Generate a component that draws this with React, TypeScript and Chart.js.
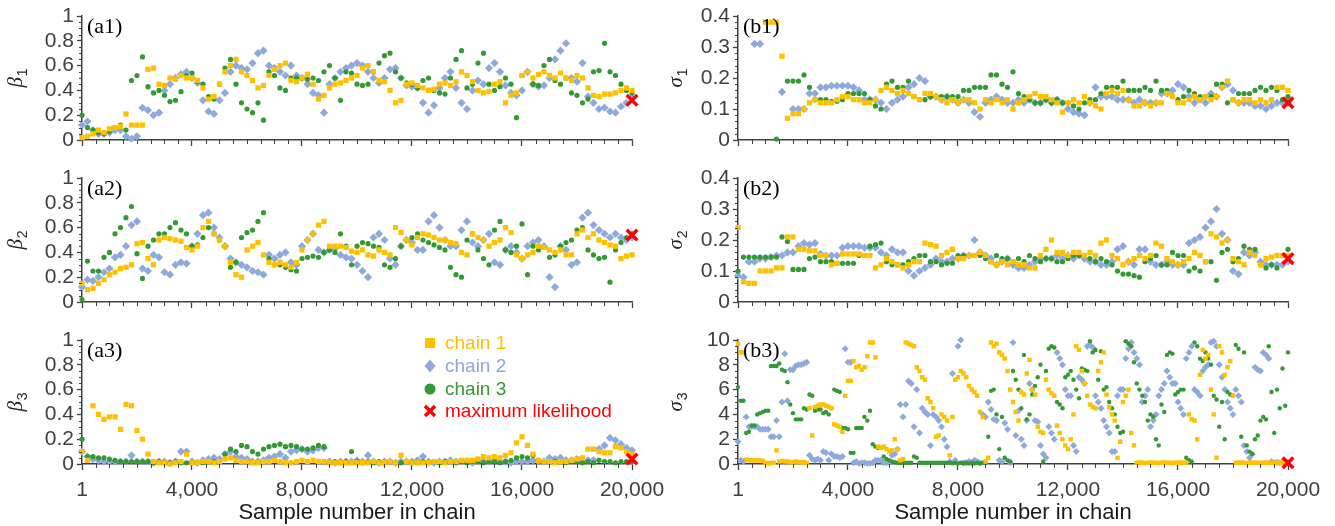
import React, { useEffect, useRef } from 'react';
import { Chart, registerables } from 'chart.js';

Chart.register(...registerables);

// ---------------- data ----------------
const SAMPLE_STEP = 200; // thinning interval of the traces in panels a1-a3, b1, b2
const SAMPLE_STEP_B3 = 100; // thinning interval of the traces in panel b3
const X_TICKS = [1, 4000, 8000, 12000, 16000, 20000];
const X_TICK_LABELS = ['1', '4,000', '8,000', '12,000', '16,000', '20,000'];
const A_TICKS = [0, 0.2, 0.4, 0.6, 0.8, 1];
const B_TICKS = [0, 0.1, 0.2, 0.3, 0.4];
const B3_TICKS = [0, 2, 4, 6, 8, 10];
const ML_SAMPLE = 20000;
const ML_VALUES = [0.32, 0.54, 0.04, 0.12, 0.14, 0.1]; // a1 a2 a3 b1 b2 b3
const LEGEND_LABELS = ['chain 1', 'chain 2', 'chain 3', 'maximum likelihood'];

const beta1Chain1 = [0.02,0.03,0.05,0.08,0.06,0.09,0.10,0.11,0.21,0.12,
  0.12,0.12,0.57,0.58,0.45,0.44,0.50,0.49,0.52,0.50,
  0.50,0.48,0.42,0.33,0.35,0.45,0.55,0.60,0.65,0.55,
  0.52,0.48,0.42,0.44,0.52,0.57,0.60,0.62,0.48,0.47,
  0.50,0.53,0.45,0.33,0.36,0.42,0.45,0.46,0.48,0.50,
  0.52,0.58,0.60,0.55,0.48,0.47,0.40,0.30,0.32,0.45,
  0.46,0.44,0.42,0.40,0.41,0.45,0.46,0.44,0.47,0.55,
  0.52,0.47,0.40,0.38,0.39,0.45,0.47,0.30,0.36,0.38,
  0.52,0.55,0.50,0.53,0.55,0.52,0.50,0.54,0.50,0.48,
  0.52,0.50,0.42,0.36,0.35,0.37,0.37,0.38,0.40,0.42,
  0.40];
const beta1Chain2 = [0.12,0.15,0.08,0.05,0.05,0.06,0.08,0.08,0.03,0.01,
  0.03,0.26,0.24,0.20,0.22,0.40,0.45,0.50,0.53,0.55,
  0.50,0.46,0.32,0.23,0.21,0.32,0.38,0.55,0.60,0.58,
  0.57,0.62,0.70,0.72,0.60,0.58,0.55,0.52,0.60,0.52,
  0.50,0.45,0.38,0.36,0.22,0.45,0.50,0.55,0.58,0.60,
  0.62,0.60,0.55,0.50,0.46,0.50,0.57,0.58,0.50,0.44,
  0.43,0.42,0.30,0.22,0.28,0.42,0.50,0.55,0.42,0.30,
  0.25,0.40,0.48,0.45,0.58,0.62,0.55,0.44,0.38,0.36,
  0.40,0.55,0.45,0.43,0.44,0.50,0.65,0.72,0.78,0.50,
  0.47,0.62,0.35,0.30,0.25,0.26,0.23,0.22,0.27,0.30,
  0.34];
const beta1Chain3 = [0.20,0.10,0.08,0.06,0.05,0.07,0.10,0.12,0.08,0.48,
  0.52,0.67,0.43,0.38,0.40,0.36,0.31,0.32,0.39,0.52,
  0.54,0.47,0.45,0.35,0.33,0.45,0.58,0.65,0.45,0.30,
  0.25,0.22,0.30,0.16,0.55,0.52,0.42,0.40,0.50,0.50,
  0.50,0.49,0.50,0.48,0.55,0.60,0.50,0.32,0.55,0.54,
  0.45,0.44,0.45,0.55,0.62,0.68,0.70,0.55,0.50,0.46,
  0.45,0.42,0.48,0.50,0.40,0.38,0.37,0.50,0.65,0.72,
  0.42,0.45,0.62,0.70,0.45,0.40,0.43,0.50,0.45,0.18,
  0.52,0.55,0.45,0.44,0.60,0.65,0.48,0.45,0.50,0.38,
  0.36,0.30,0.33,0.55,0.56,0.78,0.55,0.52,0.45,0.40,
  0.38];

const beta2Chain1 = [0.15,0.10,0.11,0.15,0.18,0.22,0.24,0.27,0.28,0.30,
  0.47,0.48,0.35,0.30,0.50,0.52,0.51,0.50,0.49,0.44,
  0.42,0.45,0.60,0.65,0.55,0.50,0.45,0.32,0.22,0.20,
  0.42,0.45,0.48,0.38,0.32,0.30,0.32,0.30,0.28,0.32,
  0.42,0.50,0.55,0.62,0.65,0.45,0.45,0.45,0.44,0.41,
  0.40,0.42,0.38,0.37,0.42,0.40,0.38,0.60,0.56,0.50,
  0.46,0.52,0.55,0.54,0.52,0.50,0.50,0.48,0.47,0.40,
  0.38,0.55,0.52,0.50,0.45,0.48,0.50,0.60,0.56,0.38,
  0.35,0.38,0.40,0.45,0.44,0.42,0.40,0.42,0.38,0.38,
  0.55,0.58,0.52,0.55,0.50,0.48,0.46,0.45,0.35,0.37,
  0.38];
const beta2Chain2 = [0.12,0.18,0.17,0.20,0.24,0.27,0.36,0.38,0.45,0.62,
  0.65,0.27,0.25,0.38,0.36,0.24,0.22,0.30,0.32,0.31,
  0.45,0.55,0.70,0.72,0.60,0.52,0.45,0.35,0.32,0.30,
  0.28,0.25,0.24,0.22,0.38,0.35,0.38,0.40,0.32,0.30,
  0.45,0.50,0.55,0.42,0.40,0.42,0.43,0.38,0.36,0.35,
  0.30,0.25,0.20,0.52,0.55,0.50,0.35,0.30,0.45,0.50,
  0.48,0.42,0.42,0.65,0.70,0.60,0.50,0.45,0.45,0.58,
  0.65,0.48,0.45,0.50,0.55,0.32,0.30,0.42,0.45,0.40,
  0.35,0.45,0.48,0.50,0.45,0.20,0.12,0.45,0.42,0.30,
  0.32,0.68,0.72,0.62,0.58,0.55,0.52,0.55,0.52,0.50,
  0.52];
const beta2Chain3 = [0.02,0.33,0.25,0.25,0.36,0.40,0.55,0.60,0.68,0.77,
  0.39,0.19,0.45,0.50,0.55,0.55,0.60,0.64,0.58,0.55,
  0.45,0.46,0.52,0.60,0.55,0.50,0.45,0.28,0.32,0.52,
  0.56,0.58,0.65,0.72,0.35,0.30,0.30,0.28,0.26,0.25,
  0.35,0.36,0.37,0.36,0.40,0.42,0.40,0.55,0.45,0.30,
  0.45,0.48,0.47,0.45,0.44,0.30,0.28,0.35,0.45,0.50,
  0.52,0.55,0.50,0.48,0.46,0.44,0.42,0.28,0.22,0.20,
  0.50,0.55,0.42,0.35,0.30,0.58,0.65,0.42,0.40,0.45,
  0.63,0.22,0.45,0.42,0.44,0.36,0.38,0.45,0.48,0.50,
  0.58,0.60,0.42,0.38,0.35,0.36,0.16,0.42,0.48,0.52,
  0.55];

const beta3Chain1 = [0.10,0.03,0.47,0.40,0.36,0.38,0.38,0.28,0.48,0.47,
  0.27,0.20,0.08,0.02,0.01,0.01,0.00,0.01,0.02,0.08,
  0.01,0.01,0.02,0.02,0.01,0.02,0.04,0.05,0.03,0.02,
  0.02,0.01,0.01,0.02,0.02,0.03,0.02,0.01,0.01,0.02,
  0.03,0.02,0.03,0.02,0.02,0.01,0.01,0.01,0.01,0.01,
  0.01,0.01,0.01,0.02,0.01,0.01,0.02,0.01,0.07,0.02,
  0.01,0.01,0.01,0.01,0.02,0.02,0.01,0.02,0.02,0.03,
  0.03,0.03,0.04,0.06,0.05,0.06,0.05,0.07,0.09,0.17,
  0.22,0.15,0.08,0.03,0.02,0.02,0.01,0.02,0.02,0.03,
  0.04,0.05,0.12,0.12,0.10,0.09,0.09,0.14,0.13,0.10,
  0.08];
const beta3Chain2 = [0.10,0.06,0.04,0.03,0.02,0.02,0.02,0.02,0.02,0.07,
  0.02,0.02,0.02,0.01,0.02,0.02,0.01,0.02,0.10,0.10,
  0.02,0.01,0.03,0.04,0.05,0.04,0.08,0.10,0.06,0.05,
  0.04,0.02,0.02,0.03,0.05,0.06,0.08,0.05,0.10,0.11,
  0.12,0.10,0.11,0.13,0.13,0.02,0.01,0.02,0.02,0.02,
  0.03,0.02,0.07,0.02,0.01,0.02,0.02,0.01,0.02,0.02,
  0.02,0.03,0.06,0.02,0.01,0.02,0.02,0.03,0.02,0.02,
  0.02,0.01,0.03,0.02,0.02,0.03,0.02,0.02,0.01,0.02,
  0.02,0.02,0.03,0.02,0.02,0.05,0.04,0.05,0.03,0.03,
  0.04,0.02,0.03,0.03,0.12,0.15,0.21,0.19,0.16,0.13,
  0.11];
const beta3Chain3 = [0.20,0.06,0.06,0.05,0.05,0.04,0.03,0.02,0.02,0.02,
  0.02,0.02,0.02,0.01,0.02,0.01,0.01,0.02,0.01,0.01,
  0.01,0.01,0.01,0.02,0.02,0.02,0.08,0.12,0.10,0.15,
  0.14,0.10,0.08,0.12,0.14,0.15,0.16,0.14,0.15,0.14,
  0.12,0.12,0.13,0.15,0.14,0.01,0.02,0.01,0.02,0.10,
  0.02,0.01,0.02,0.01,0.02,0.01,0.02,0.01,0.01,0.02,
  0.01,0.01,0.02,0.01,0.02,0.01,0.02,0.02,0.01,0.02,
  0.01,0.02,0.02,0.01,0.02,0.02,0.01,0.02,0.03,0.05,
  0.06,0.05,0.07,0.03,0.02,0.02,0.02,0.02,0.01,0.02,
  0.02,0.01,0.02,0.01,0.03,0.02,0.02,0.01,0.02,0.02,
  0.02];

const sigma1Chain1 = [null,null,null,null,null,0.38,0.38,0.38,0.27,0.07,
  0.085,0.085,0.10,0.12,0.13,0.12,0.12,0.12,0.13,0.14,
  0.14,0.13,0.13,0.12,0.12,0.13,0.16,0.17,0.16,0.15,
  0.16,0.15,0.14,0.13,0.15,0.15,0.14,0.13,0.12,0.13,
  0.12,0.13,0.13,0.12,0.10,0.13,0.12,0.13,0.12,0.13,
  0.10,0.12,0.13,0.14,0.15,0.14,0.14,0.13,0.12,0.09,
  0.12,0.13,0.12,0.14,0.12,0.11,0.10,0.15,0.16,0.15,
  0.16,0.13,0.11,0.11,0.12,0.11,0.12,0.12,0.15,0.14,
  0.12,0.12,0.13,0.14,0.13,0.14,0.13,0.14,0.17,0.19,
  0.13,0.12,0.13,0.13,0.12,0.13,0.12,0.13,0.17,0.17,
  0.16];
const sigma1Chain2 = [null,null,null,0.31,0.31,null,null,null,0.155,null,
  0.10,0.10,0.10,0.15,0.15,0.17,0.17,0.175,0.175,0.175,
  0.175,0.17,0.16,0.13,0.13,0.13,0.12,0.10,0.12,0.13,
  0.14,0.17,0.18,0.20,0.19,0.14,0.14,0.13,0.14,0.13,
  0.12,0.13,0.12,0.09,0.075,0.12,0.13,0.14,0.13,0.12,
  0.12,0.13,0.12,0.13,0.12,0.12,0.13,0.12,0.13,0.12,
  0.10,0.09,0.085,0.08,0.12,0.17,0.14,0.14,0.14,0.13,
  0.13,0.13,0.12,0.13,0.12,0.12,0.12,0.15,0.15,0.16,
  0.18,0.17,0.14,0.12,0.13,0.12,0.15,0.14,0.17,0.18,
  0.16,0.12,0.12,0.12,0.11,0.11,0.10,0.11,0.12,0.12,
  0.12];
const sigma1Chain3 = [null,null,null,null,null,null,null,0.003,null,0.19,
  0.19,0.19,0.21,0.17,0.13,0.13,0.13,0.125,0.125,0.13,
  0.15,0.15,0.15,0.15,0.13,0.11,0.10,0.18,0.19,0.17,
  0.17,0.19,0.14,0.13,0.13,0.14,0.14,0.14,0.14,0.14,
  0.14,0.16,0.16,0.17,0.17,0.17,0.21,0.21,0.18,0.17,
  0.22,0.15,0.14,0.13,0.12,0.12,0.13,0.12,0.13,0.12,
  0.12,0.11,0.10,0.12,0.13,0.13,0.15,0.17,0.17,0.17,
  0.19,0.16,0.16,0.16,0.17,0.16,0.19,0.16,0.16,0.14,
  0.13,0.14,0.16,0.15,0.14,0.14,0.14,0.18,0.18,0.12,
  0.13,0.15,0.15,0.15,0.16,0.17,0.16,0.17,0.16,0.13,
  0.14];

const sigma2Chain1 = [0.24,0.065,0.06,0.06,0.10,0.10,0.10,0.11,0.11,0.21,
  0.21,0.17,0.17,0.165,0.165,0.15,0.15,0.12,0.125,0.155,
  0.155,0.155,0.155,0.15,0.15,0.11,0.12,0.14,0.13,0.12,
  0.11,0.12,0.13,0.13,0.19,0.185,0.18,0.15,0.16,0.17,
  0.14,0.14,0.15,0.15,0.16,0.15,0.13,0.12,0.13,0.12,
  0.13,0.12,0.12,0.11,0.11,0.15,0.17,0.20,0.16,0.16,
  0.15,0.16,0.16,0.15,0.16,0.15,0.19,0.20,0.15,0.14,
  0.12,0.13,0.14,0.15,0.14,0.15,0.19,0.18,0.14,0.13,
  0.12,0.13,0.14,0.16,0.15,0.13,0.22,0.21,0.19,0.20,
  0.14,0.13,0.12,0.16,0.15,0.12,0.14,0.145,0.15,0.15,
  0.15];
const sigma2Chain2 = [0.085,0.08,0.13,0.13,0.14,0.14,0.145,0.15,0.15,0.16,
  0.16,0.18,0.19,0.185,0.19,0.155,0.15,0.15,0.15,0.175,
  0.18,0.18,0.18,0.175,0.175,0.175,0.16,0.15,0.17,0.16,
  0.16,0.10,0.085,0.10,0.11,0.12,0.14,0.13,0.13,0.14,
  0.14,0.15,0.15,0.20,0.16,0.15,0.14,0.12,0.13,0.14,
  0.12,0.11,0.11,0.12,0.13,0.14,0.14,0.14,0.15,0.14,
  0.15,0.14,0.15,0.14,0.13,0.13,0.12,0.12,0.13,0.17,
  0.18,0.13,0.12,0.17,0.17,0.13,0.12,0.12,0.13,0.12,
  0.12,0.12,0.19,0.20,0.21,0.24,0.26,0.30,0.22,0.20,
  0.10,0.09,0.16,0.15,0.16,0.13,0.12,0.12,0.12,0.12,
  0.13];
const sigma2Chain3 = [0.10,0.145,0.145,0.145,0.145,0.145,0.145,0.145,0.21,0.195,
  0.105,0.105,0.105,0.14,0.145,0.13,0.13,0.13,0.125,0.125,
  0.125,0.125,0.15,0.15,0.18,0.185,0.19,0.13,0.12,0.12,
  0.12,0.13,0.14,0.15,0.15,0.13,0.13,0.12,0.125,0.125,
  0.15,0.15,0.15,0.15,0.15,0.14,0.13,0.15,0.14,0.14,
  0.13,0.14,0.13,0.15,0.14,0.13,0.14,0.14,0.13,0.13,
  0.14,0.15,0.15,0.15,0.14,0.13,0.14,0.13,0.12,0.10,
  0.09,0.09,0.085,0.08,0.13,0.14,0.15,0.12,0.12,0.16,
  0.15,0.15,0.10,0.11,0.10,0.13,0.13,0.07,0.16,0.17,
  0.13,0.14,0.18,0.17,0.17,0.12,0.11,0.12,0.11,0.15,
  0.17];

const sigma3Chain1 = [9.7,9.0,9.0,0.35,0.3,0.3,0.3,0.3,0.28,0.25,
  0.1,0.05,0.08,0.1,1.1,0.2,0.25,0.2,0.2,0.15,
  0.15,0.2,0.15,0.15,0.15,0.1,4.5,2.3,4.6,4.7,
  4.8,4.8,4.7,4.6,4.5,3.2,3.1,3.0,2.6,5.5,
  6.7,6.7,8.3,7.8,7.9,7.6,7.8,8.7,9.8,9.8,
  8.6,1.4,1.3,1.4,1.2,1.0,1.1,2.0,1.2,0.3,
  0.4,9.8,9.7,9.6,9.5,7.8,7.5,7.0,6.8,5.3,
  5.0,4.5,2.2,2.3,4.0,3.8,3.5,0.7,3.8,6.8,
  7.0,7.5,7.3,7.0,6.3,6.0,5.8,5.5,4.2,3.8,
  0.2,0.5,9.8,9.5,9.7,9.0,8.8,8.5,7.5,6.0,
  5.0,4.2,3.5,5.8,5.6,7.3,8.4,6.0,5.6,3.0,
  2.6,2.5,6.8,6.0,5.7,5.5,3.1,2.5,2.0,1.5,
  1.2,2.0,4.0,9.5,9.2,7.5,6.5,5.5,4.8,4.6,
  4.5,7.5,8.2,9.0,5.6,4.6,4.0,3.5,0.5,1.8,
  5.0,5.5,6.0,2.5,1.5,0.1,0.12,0.1,0.08,0.1,
  0.12,0.1,0.1,0.08,0.1,0.12,0.1,0.1,0.08,0.1,
  0.1,0.12,0.1,0.1,4.0,3.6,3.5,2.0,7.2,9.2,
  8.5,8.8,6.0,4.0,0.5,9.5,9.0,7.2,7.8,8.3,
  5.5,0.1,0.12,0.1,0.1,0.08,0.1,0.12,0.1,0.1,
  0.08,0.1,0.12,0.1,0.1,0.1,0.08,0.1,0.12,0.1,
  0.1];
const sigma3Chain2 = [1.8,0.3,0.2,3.8,3.0,3.0,3.0,3.0,2.8,2.8,
  2.8,2.8,2.2,2.2,3.5,2.2,5.0,8.9,5.1,7.6,
  7.6,7.9,8.0,8.0,8.1,8.2,0.7,0.4,0.3,0.4,
  0.3,1.0,0.9,0.3,0.8,0.6,0.6,0.5,0.6,9.3,
  8.2,8.2,0.1,0.2,0.05,0.1,0.1,0.05,0.05,0.1,
  0.3,0.3,0.3,0.1,0.1,0.1,0.7,0.8,1.2,4.8,
  3.8,4.8,6.7,6.5,3.0,6.0,2.5,4.5,4.2,4.0,
  1.5,4.0,3.8,3.5,3.0,2.0,1.4,0.2,7.3,0.3,
  9.5,10.0,0.1,0.1,0.2,0.1,0.3,0.2,0.1,4.0,
  3.8,5.0,4.4,3.6,3.5,0.3,0.2,3.3,2.8,0.1,
  9.8,2.3,4.3,2.0,1.5,3.5,6.5,6.0,3.5,3.4,
  1.5,0.8,0.5,3.0,2.5,2.0,9.0,8.5,8.0,6.0,
  5.5,5.5,1.5,1.0,7.0,6.8,6.5,9.5,9.6,9.4,
  5.5,5.0,4.5,3.5,3.0,2.5,1.0,1.0,5.5,6.0,
  6.0,8.5,9.3,9.8,9.0,8.5,8.0,5.0,5.5,6.0,
  3.0,3.5,4.0,5.5,6.0,6.5,7.5,7.0,6.5,6.5,
  5.0,4.5,4.0,8.5,9.0,9.5,6.0,5.8,5.5,7.5,
  7.8,8.0,9.8,9.9,9.5,8.0,7.0,6.0,5.0,4.5,
  4.0,6.0,5.5,5.0,1.5,1.0,0.5,0.8,7.8,7.6,
  7.5,9.0,8.8,8.5,0.2,0.1,0.15,0.1,0.2,0.1,
  0.1];
const sigma3Chain3 = [6.2,5.1,5.1,2.5,2.6,3.1,3.1,4.0,4.1,4.2,
  4.3,4.3,7.9,7.9,7.9,8.1,7.6,7.5,6.6,4.8,
  4.1,3.6,3.6,3.6,4.5,4.4,5.6,5.5,4.3,4.4,
  4.4,4.1,4.2,4.0,4.5,6.0,5.9,5.8,2.9,2.9,
  2.8,0.9,0.9,2.9,2.9,2.9,3.8,3.5,4.3,1.6,
  1.4,1.3,1.3,0.6,0.4,0.3,0.2,0.15,0.1,0.1,
  0.1,0.1,0.1,0.1,0.6,0.5,0.1,0.1,0.1,0.1,
  0.1,0.1,0.1,0.1,0.1,0.1,0.1,0.1,0.05,0.1,
  0.05,0.1,0.05,0.1,0.05,0.1,0.05,0.1,0.05,0.1,
  0.1,2.2,5.9,6.0,4.0,1.2,3.8,0.5,0.3,0.2,
  7.5,6.8,6.0,4.5,8.8,3.6,4.0,5.6,6.3,7.0,
  8.0,0.2,7.5,9.3,9.5,9.4,5.0,4.8,4.5,7.0,
  7.2,7.5,6.8,6.0,5.3,7.7,7.6,7.5,9.9,9.0,
  9.2,6.8,9.1,6.0,6.2,5.0,4.5,4.0,3.0,2.5,
  2.6,9.9,9.7,9.5,8.2,6.5,6.0,5.5,5.0,3.5,
  4.0,3.8,2.0,1.5,4.8,4.2,8.8,9.0,8.9,5.6,
  5.8,6.0,6.0,0.5,0.3,0.2,9.8,9.5,8.5,8.3,
  9.0,8.5,8.0,5.5,5.2,3.0,5.0,2.0,5.8,5.6,
  5.5,9.6,9.3,2.2,9.0,1.5,1.0,0.8,2.0,2.3,
  3.5,3.8,3.6,9.5,5.8,2.5,6.0,4.5,7.7,4.7,
  9.0];

// ---------------- styling ----------------
const YELLOW = '#FFC000';
const BLUE = '#8EA9DB';
const GREEN = '#339933';
const RED = '#FF0000';
const AXIS = '#404040';
const TICK_TEXT = '#404040';
const SANS = "'Liberation Sans', Arial, Helvetica, sans-serif";
const SERIF = "'Liberation Serif', 'Times New Roman', serif";

type Series = (number | null)[];

interface PanelSpec {
  id: string;
  label: string;
  letter: string;
  sub: string;
  col: number;
  row: number;
  series: Series[];
  step: number;
  ml: number;
  yMax: number;
  yTicks: number[];
  yMinorStep: number;
  yMinorEvery: number;
  markerScale: number;
  legend?: boolean;
}

const COLS = [
  { left: 0, width: 672, yw: 82, padRight: 40, titleX: 22 },
  { left: 660, width: 675, yw: 78, padRight: 47, titleX: 22 },
];
const ROWS = [
  { top: 0, height: 160, padTop: 16, xh: 20, labels: false },
  { top: 160, height: 162, padTop: 18, xh: 20, labels: false },
  { top: 322, height: 204, padTop: 18, xh: 62, labels: true },
];

const PANELS: PanelSpec[] = [
  { id: 'a1', label: '(a1)', letter: 'β', sub: '1', col: 0, row: 0, series: [beta1Chain1, beta1Chain2, beta1Chain3], step: SAMPLE_STEP, ml: ML_VALUES[0], yMax: 1, yTicks: A_TICKS, yMinorStep: 0.05, yMinorEvery: 4, markerScale: 1 },
  { id: 'a2', label: '(a2)', letter: 'β', sub: '2', col: 0, row: 1, series: [beta2Chain1, beta2Chain2, beta2Chain3], step: SAMPLE_STEP, ml: ML_VALUES[1], yMax: 1, yTicks: A_TICKS, yMinorStep: 0.05, yMinorEvery: 4, markerScale: 1 },
  { id: 'a3', label: '(a3)', letter: 'β', sub: '3', col: 0, row: 2, series: [beta3Chain1, beta3Chain2, beta3Chain3], step: SAMPLE_STEP, ml: ML_VALUES[2], yMax: 1, yTicks: A_TICKS, yMinorStep: 0.05, yMinorEvery: 4, markerScale: 1, legend: true },
  { id: 'b1', label: '(b1)', letter: 'σ', sub: '1', col: 1, row: 0, series: [sigma1Chain1, sigma1Chain2, sigma1Chain3], step: SAMPLE_STEP, ml: ML_VALUES[3], yMax: 0.4, yTicks: B_TICKS, yMinorStep: 0.02, yMinorEvery: 5, markerScale: 1 },
  { id: 'b2', label: '(b2)', letter: 'σ', sub: '2', col: 1, row: 1, series: [sigma2Chain1, sigma2Chain2, sigma2Chain3], step: SAMPLE_STEP, ml: ML_VALUES[4], yMax: 0.4, yTicks: B_TICKS, yMinorStep: 0.02, yMinorEvery: 5, markerScale: 1 },
  { id: 'b3', label: '(b3)', letter: 'σ', sub: '3', col: 1, row: 2, series: [sigma3Chain1, sigma3Chain2, sigma3Chain3], step: SAMPLE_STEP_B3, ml: ML_VALUES[5], yMax: 10, yTicks: B3_TICKS, yMinorStep: 0.5, yMinorEvery: 4, markerScale: 0.85 },
];

const CHAIN_STYLES = [
  { label: 'chain 1', color: YELLOW, pointStyle: 'rect', radius: 3.7, order: 1 },
  { label: 'chain 2', color: BLUE, pointStyle: 'rectRot', radius: 4.1, order: 3 },
  { label: 'chain 3', color: GREEN, pointStyle: 'circle', radius: 2.6, order: 2 },
];

function toPoints(values: Series, step: number) {
  return values.map((v, i) => ({ x: i === 0 ? 1 : i * step, y: v }));
}

function decorPlugin(spec: PanelSpec, col: typeof COLS[number]) {
  return {
    id: 'decor_' + spec.id,
    afterDraw(chart: any) {
      const { ctx, chartArea } = chart;
      const xs = chart.scales.x;
      const ys = chart.scales.y;
      ctx.save();
      // minor ticks
      ctx.strokeStyle = AXIS;
      ctx.lineWidth = 1;
      ctx.beginPath();
      for (let s = 500; s < 20000; s += 500) {
        if (s % 4000 === 0) continue;
        const px = Math.round(xs.getPixelForValue(s)) + 0.5;
        ctx.moveTo(px, chartArea.bottom);
        ctx.lineTo(px, chartArea.bottom + 4);
      }
      const n = Math.round(spec.yMax / spec.yMinorStep);
      for (let i = 1; i < n; i++) {
        if (i % spec.yMinorEvery === 0) continue;
        const py = Math.round(ys.getPixelForValue(i * spec.yMinorStep)) + 0.5;
        ctx.moveTo(chartArea.left, py);
        ctx.lineTo(chartArea.left - 3, py);
      }
      ctx.stroke();

      // panel label
      ctx.fillStyle = '#000';
      ctx.font = `22px ${SERIF}`;
      ctx.textAlign = 'left';
      ctx.textBaseline = 'alphabetic';
      ctx.fillText(spec.label, chartArea.left + 5, chartArea.top + 17);

      // y-axis title with subscript
      const cy = (chartArea.top + chartArea.bottom) / 2;
      ctx.save();
      ctx.translate(col.titleX, cy);
      ctx.rotate(-Math.PI / 2);
      const mainFont = `italic 21px ${SERIF}`;
      const subFont = `14px ${SANS}`;
      ctx.font = mainFont;
      const w1 = ctx.measureText(spec.letter).width;
      ctx.font = subFont;
      const w2 = ctx.measureText(spec.sub).width;
      const x0 = -(w1 + w2 + 1) / 2;
      ctx.fillStyle = '#262626';
      ctx.font = mainFont;
      ctx.fillText(spec.letter, x0, 0);
      ctx.font = subFont;
      ctx.fillText(spec.sub, x0 + w1 + 1, 5);
      ctx.restore();

      if (spec.legend) {
        const mx = 430;
        const tx = 445;
        const rows = [21, 44, 67, 89];
        const colors = [YELLOW, BLUE, GREEN, RED];
        ctx.font = `19px ${SANS}`;
        ctx.textBaseline = 'middle';
        rows.forEach((y, i) => {
          ctx.fillStyle = colors[i];
          ctx.strokeStyle = colors[i];
          if (i === 0) {
            ctx.fillRect(mx - 5, y - 5, 10, 10);
          } else if (i === 1) {
            ctx.beginPath();
            ctx.moveTo(mx, y - 6.5);
            ctx.lineTo(mx + 5.5, y);
            ctx.lineTo(mx, y + 6.5);
            ctx.lineTo(mx - 5.5, y);
            ctx.closePath();
            ctx.fill();
          } else if (i === 2) {
            ctx.beginPath();
            ctx.arc(mx, y, 5.5, 0, Math.PI * 2);
            ctx.fill();
          } else {
            ctx.lineWidth = 3.5;
            ctx.beginPath();
            ctx.moveTo(mx - 5, y - 5);
            ctx.lineTo(mx + 5, y + 5);
            ctx.moveTo(mx + 5, y - 5);
            ctx.lineTo(mx - 5, y + 5);
            ctx.stroke();
          }
          ctx.fillText(LEGEND_LABELS[i], tx, y + 1);
        });
      }
      ctx.restore();
    },
  };
}

function buildConfig(spec: PanelSpec): any {
  const col = COLS[spec.col];
  const row = ROWS[spec.row];
  const datasets: any[] = spec.series.map((vals, i) => {
    const st = CHAIN_STYLES[i];
    return {
      label: st.label,
      data: toPoints(vals, spec.step),
      showLine: false,
      pointStyle: st.pointStyle,
      pointRadius: st.radius * spec.markerScale,
      pointBackgroundColor: st.color,
      pointBorderColor: st.color,
      pointBorderWidth: 0,
      order: st.order,
      clip: false,
    };
  });
  datasets.push({
    label: 'maximum likelihood',
    data: [{ x: ML_SAMPLE, y: spec.ml }],
    showLine: false,
    pointStyle: 'crossRot',
    pointRadius: 7.5,
    pointBorderColor: RED,
    pointBackgroundColor: RED,
    pointBorderWidth: 3.5,
    order: 0,
    clip: false,
  });

  const tickFont = { family: SANS, size: 21 };
  return {
    type: 'scatter',
    data: { datasets },
    options: {
      responsive: false,
      animation: false,
      devicePixelRatio: 1,
      events: [],
      layout: { padding: { left: 0, right: col.padRight, top: row.padTop, bottom: 0 } },
      plugins: { legend: { display: false }, tooltip: { enabled: false }, title: { display: false } },
      scales: {
        x: {
          type: 'linear',
          min: 1,
          max: 20000,
          afterBuildTicks: (s: any) => { s.ticks = X_TICKS.map((v) => ({ value: v })); },
          afterFit: (s: any) => { s.height = row.xh; s.paddingLeft = 0; s.paddingRight = 0; },
          ticks: {
            display: row.labels,
            autoSkip: false,
            maxRotation: 0,
            minRotation: 0,
            padding: 8,
            font: tickFont,
            color: TICK_TEXT,
            callback: (_v: any, i: number) => X_TICK_LABELS[i],
          },
          grid: { drawOnChartArea: false, drawTicks: true, tickLength: 6, tickColor: AXIS, tickWidth: 1.3 },
          border: { display: true, color: AXIS, width: 1.5 },
          title: {
            display: row.labels,
            text: 'Sample number in chain',
            font: { family: SANS, size: 22 },
            color: '#1a1a1a',
            padding: { top: 0, bottom: 0 },
          },
        },
        y: {
          type: 'linear',
          min: 0,
          max: spec.yMax,
          afterBuildTicks: (s: any) => { s.ticks = spec.yTicks.map((v) => ({ value: v })); },
          afterFit: (s: any) => { s.width = col.yw; s.paddingTop = 0; s.paddingBottom = 0; },
          ticks: {
            autoSkip: false,
            padding: 3,
            font: tickFont,
            color: TICK_TEXT,
            callback: (v: any) => String(v),
          },
          grid: { drawOnChartArea: false, drawTicks: true, tickLength: 5, tickColor: AXIS, tickWidth: 1.3 },
          border: { display: true, color: AXIS, width: 1.5 },
        },
      },
    },
    plugins: [decorPlugin(spec, col)],
  };
}

function Panel({ spec }: { spec: PanelSpec }) {
  const ref = useRef<HTMLCanvasElement>(null);
  const col = COLS[spec.col];
  const row = ROWS[spec.row];
  useEffect(() => {
    const chart = new Chart(ref.current as HTMLCanvasElement, buildConfig(spec));
    return () => chart.destroy();
  }, [spec]);
  return (
    <canvas
      ref={ref}
      width={col.width}
      height={row.height}
      style={{ position: 'absolute', left: col.left, top: row.top, width: col.width, height: row.height }}
    />
  );
}

export default function App() {
  return (
    <div style={{ position: 'absolute', left: 0, top: 0, width: 1335, height: 526, background: '#fff', overflow: 'hidden' }}>
      {PANELS.map((p) => (
        <Panel key={p.id} spec={p} />
      ))}
    </div>
  );
}
